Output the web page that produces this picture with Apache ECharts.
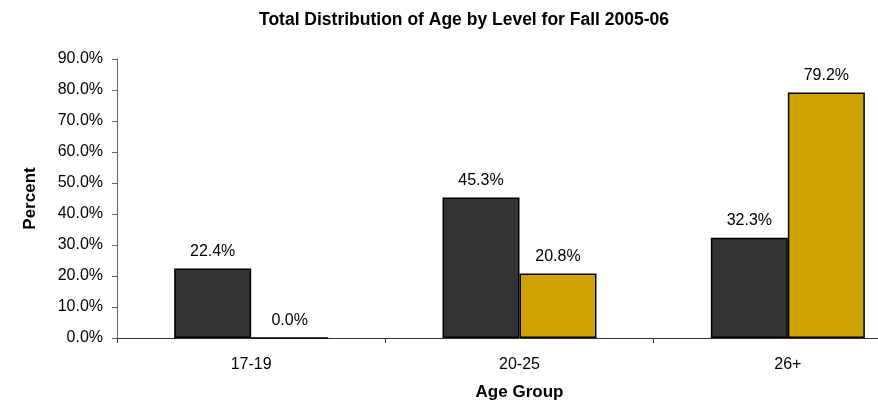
<!DOCTYPE html>
<html>
<head>
<meta charset="utf-8">
<script src="https://cdn.jsdelivr.net/npm/echarts@6/dist/echarts.min.js"></script>
<style>
html,body{margin:0;padding:0;background:#fff;overflow:hidden;width:878px;height:409px;}
#chart{width:922px;height:409px;}
</style>
</head>
<body>
<div id="chart"></div>
<script>
var categories = ['17-19', '20-25', '26+'];
var seriesA = [22.4, 45.3, 32.3];
var seriesB = [0.0, 20.8, 79.2];
var titleText = 'Total Distribution of Age by Level for Fall 2005-06';
var FONT = '"Liberation Sans", Arial, sans-serif';

var chart = echarts.init(document.getElementById('chart'));
var labelCfg = {
  show: true, position: 'top', distance: 9,
  color: '#000', fontFamily: FONT, fontSize: 16,
  formatter: function (p) { return p.value.toFixed(1) + '%'; }
};
chart.setOption({
  animation: false,
  title: {
    text: titleText, left: 459, top: 6, textAlign: 'center',
    textStyle: { fontFamily: FONT, fontSize: 17.5, fontWeight: 'bold', color: '#000' }
  },
  grid: { left: 117, right: 0, top: 59, bottom: 71, containLabel: false },
  xAxis: {
    type: 'category', data: categories,
    name: 'Age Group', nameLocation: 'middle', nameGap: 46,
    nameTextStyle: { fontFamily: FONT, fontSize: 17, fontWeight: 'bold', color: '#000' },
    axisLine: { lineStyle: { color: '#333', width: 1 } },
    axisTick: { show: true, length: 5, inside: false, lineStyle: { color: '#333' } },
    axisLabel: { fontFamily: FONT, fontSize: 16, color: '#000', margin: 19 }
  },
  yAxis: {
    type: 'value', min: 0, max: 90, interval: 10,
    name: 'Percent', nameLocation: 'middle', nameGap: 78, nameRotate: 90,
    nameTextStyle: { fontFamily: FONT, fontSize: 17, fontWeight: 'bold', color: '#000' },
    axisLine: { show: true, lineStyle: { color: '#666', width: 1 } },
    axisTick: { show: true, length: 5, lineStyle: { color: '#666' } },
    splitLine: { show: false },
    axisLabel: {
      fontFamily: FONT, fontSize: 16, color: '#000', margin: 14,
      formatter: function (v) { return v.toFixed(1) + '%'; }
    }
  },
  series: [
    { type: 'bar', data: seriesA, barWidth: 77, barGap: '0%',
      itemStyle: { color: '#333333', borderColor: '#000', borderWidth: 1.5 },
      label: labelCfg },
    { type: 'bar', data: seriesB, barWidth: 77, barGap: '0%',
      itemStyle: { color: '#CCA300', borderColor: '#000', borderWidth: 1.5 },
      label: labelCfg }
  ]
});
</script>
</body>
</html>
